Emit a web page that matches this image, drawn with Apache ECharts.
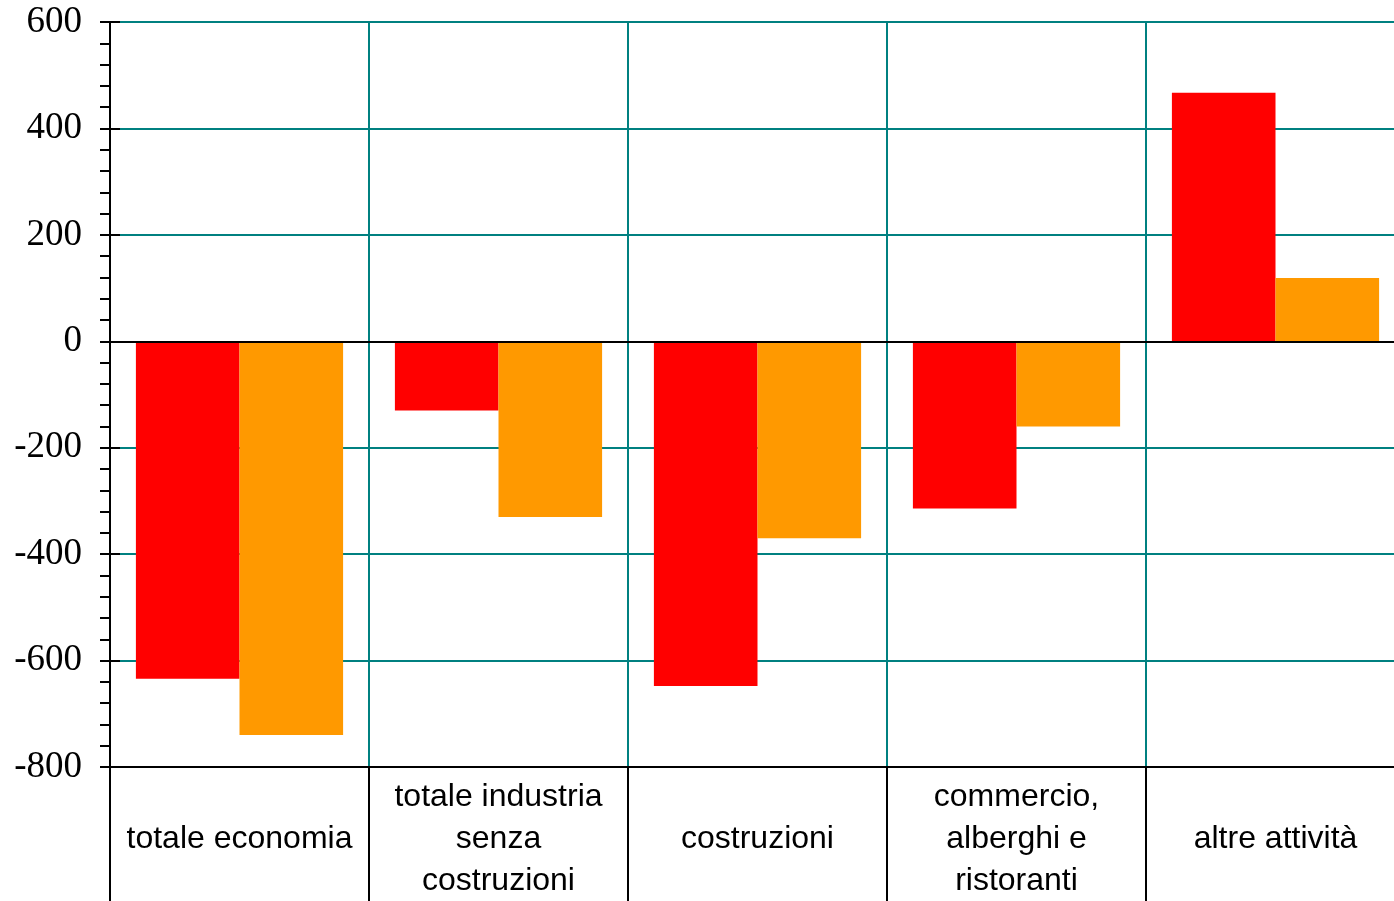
<!DOCTYPE html>
<html>
<head>
<meta charset="utf-8">
<script src="https://cdn.jsdelivr.net/npm/echarts@6/dist/echarts.min.js"></script>
<style>
html,body{margin:0;padding:0;background:#fff;}
#c{width:1394px;height:901px;}
</style>
</head>
<body>
<div id="c"></div>
<script>
const categories = ["totale economia", "totale industria\nsenza\ncostruzioni", "costruzioni", "commercio,\nalberghi e\nristoranti", "altre attività"];
const seriesRed = [-634, -130, -648, -314, 467];
const seriesOrange = [-740, -330, -370, -160, 119];
const yTicks = { min: -800, max: 600, interval: 200 };

const chart = echarts.init(document.getElementById('c'), null, { renderer: 'canvas' });
chart.setOption({
  animation: false,
  backgroundColor: '#ffffff',
  grid: { left: 110, top: 22, width: 1295, height: 745, containLabel: false, outerBoundsMode: 'none' },
  xAxis: {
    type: 'category',
    data: categories,
    position: 'bottom',
    axisLine: { onZero: false, lineStyle: { color: '#000', width: 2 } },
    axisTick: { show: true, length: 140, alignWithLabel: false, lineStyle: { color: '#000', width: 2 } },
    splitLine: { show: true, lineStyle: { color: '#008080', width: 2 } },
    axisLabel: {
      interval: 0,
      margin: 9,
      fontFamily: 'Liberation Sans',
      fontSize: 32,
      lineHeight: 42,
      color: '#000',
      formatter: v => v.indexOf('\n') < 0 ? ' \n' + v + '\n ' : v
    }
  },
  yAxis: [{
    type: 'value',
    min: yTicks.min, max: yTicks.max, interval: yTicks.interval,
    axisLine: { show: true, lineStyle: { color: '#000', width: 2 } },
    axisTick: { show: true, length: 10, inside: false, lineStyle: { color: '#000', width: 2 } },
    minorTick: { show: true, splitNumber: 5, length: 10, lineStyle: { color: '#000', width: 2 } },
    splitLine: { show: true, lineStyle: { color: '#008080', width: 2 } },
    axisLabel: { margin: 28, fontFamily: 'Liberation Serif', fontSize: 37, color: '#000' }
  }, {
    type: 'value',
    position: 'left',
    min: yTicks.min, max: yTicks.max, interval: yTicks.interval,
    axisLine: { show: false },
    axisTick: { show: true, length: 10, inside: true, lineStyle: { color: '#000', width: 2 } },
    splitLine: { show: false },
    axisLabel: { show: false }
  }],
  series: [{
    type: 'bar',
    data: seriesRed,
    itemStyle: { color: '#ff0000' },
    barGap: '0%',
    barCategoryGap: '20%',
    markLine: {
      silent: true,
      symbol: 'none',
      label: { show: false },
      lineStyle: { color: '#000', width: 2, type: 'solid' },
      data: [{ yAxis: 0 }]
    }
  }, {
    type: 'bar',
    data: seriesOrange,
    itemStyle: { color: '#ff9900' },
    barGap: '0%',
    barCategoryGap: '20%'
  }]
});
</script>
</body>
</html>
